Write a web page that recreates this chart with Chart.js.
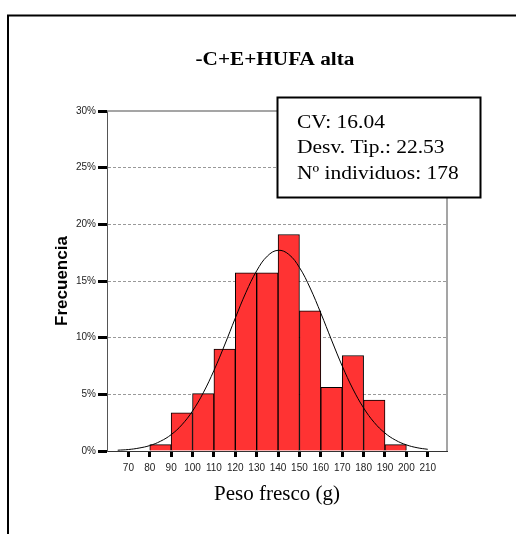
<!DOCTYPE html>
<html>
<head>
<meta charset="utf-8">
<script src="https://cdn.jsdelivr.net/npm/chart.js@4"></script>
<style>
  body { margin: 0; background: #fff; }
  canvas { display: block; }
</style>
</head>
<body>
<canvas id="chart" width="516" height="534"></canvas>
<script>
// Data (% of 178 individuals per 10 g bin)
var binCenters = [85, 95, 105, 115, 125, 135, 145, 155, 165, 175, 185, 195];
var binPercent = [0.56, 3.37, 5.06, 8.99, 15.73, 15.73, 19.10, 12.36, 5.62, 8.43, 4.49, 0.56];

// Normal curve as seen over the bars
var curveX = [65, 70, 75, 80, 85, 90, 95, 100, 105, 110, 115, 120, 125, 130, 135, 140,
              145, 150, 155, 160, 165, 170, 175, 180, 185, 190, 195, 200, 205, 210];
var curveY = [0.07, 0.13, 0.26, 0.48, 0.86, 1.44, 2.31, 3.53, 5.13, 7.10, 9.35, 11.73, 14.00, 15.90, 17.20, 17.71,
              17.35, 16.19, 14.38, 12.16, 9.79, 7.50, 5.47, 3.80, 2.51, 1.58, 0.95, 0.54, 0.29, 0.15];

var xTicks = [70, 80, 90, 100, 110, 120, 130, 140, 150, 160, 170, 180, 190, 200, 210];
var yTicks = [0, 5, 10, 15, 20, 25, 30];

var chartTitle = "-C+E+HUFA alta";
var statLines = ["CV: 16.04", "Desv. Tip.: 22.53", "N\u00BA individuos: 178"];

var barData = binCenters.map(function (x, i) { return { x: x, y: binPercent[i] }; });
var curveData = curveX.map(function (x, i) { return { x: x, y: curveY[i] }; });

var ctx = document.getElementById("chart");

var myChart = new Chart(ctx, {
  data: {
    datasets: [
      {
        type: "line",
        data: curveData,
        borderColor: "#000",
        borderWidth: 1,
        pointRadius: 0,
        tension: 0.4,
        fill: false,
        order: 0,
      },
      {
        type: "bar",
        data: barData,
        backgroundColor: "#ff3333",
        borderColor: "#000",
        borderWidth: 1,
        barPercentage: 1,
        categoryPercentage: 1,
        order: 1,
      },
    ],
  },
  options: {
    responsive: false,
    animation: false,
    events: [],
    layout: { padding: { top: 111, right: 69, left: 0, bottom: 0 } },
    plugins: {
      legend: { display: false },
      tooltip: { enabled: false },
    },
    scales: {
      x: {
        type: "linear",
        min: 60,
        max: 219,
        offset: false,
        afterBuildTicks: function (scale) {
          scale.ticks = xTicks.map(function (v) { return { value: v }; });
        },
        afterFit: function (scale) { scale.height = 83; },
        grid: {
          offset: false,
          drawOnChartArea: false,
          tickLength: 6,
          tickWidth: 3,
          tickColor: "#000",
        },
        border: { display: true, color: "#333", width: 1 },
        ticks: {
          autoSkip: false,
          maxRotation: 0,
          padding: 5,
          color: "#222",
          font: { family: "Liberation Sans", size: 10 },
        },
        title: {
          display: true,
          text: "Peso fresco (g)",
          color: "#000",
          font: { family: "Liberation Serif", size: 21, lineHeight: 1 },
          padding: { top: 0, bottom: 29 },
        },
      },
      y: {
        min: 0,
        max: 30,
        afterBuildTicks: function (scale) {
          scale.ticks = yTicks.map(function (v) { return { value: v }; });
        },
        afterFit: function (scale) { scale.width = 107; },
        grid: {
          color: function (c) {
            var v = c.tick ? c.tick.value : 0;
            return v === 0 || v === 30 ? "rgba(0,0,0,0)" : "#999";
          },
          lineWidth: 1,
          tickLength: 9,
          tickWidth: 3,
          tickColor: "#000",
          tickBorderDash: [],
        },
        border: { display: true, color: "#555", width: 1, dash: [3, 2] },
        ticks: {
          padding: 2,
          color: "#222",
          font: { family: "Liberation Sans", size: 10 },
          callback: function (value) {
            return value + "%";
          },
        },
        title: {
          display: true,
          text: "Frecuencia",
          color: "#000",
          font: { family: "Liberation Sans", size: 17, weight: "bold", lineHeight: 1 },
          padding: { top: 54, bottom: 0 },
        },
      },
    },
  },
  plugins: [
    {
      id: "pageFrame",
      beforeDraw: function (chart) {
        var c = chart.ctx;
        c.save();
        c.strokeStyle = "#000";
        c.lineWidth = 2;
        c.beginPath();
        c.moveTo(8, 534);
        c.lineTo(8, 15.5);
        c.lineTo(516, 15.5);
        c.stroke();
        c.restore();
      },
    },
    {
      id: "plotFrame",
      beforeDatasetsDraw: function (chart) {
        var a = chart.chartArea;
        var c = chart.ctx;
        c.save();
        c.strokeStyle = "#888";
        c.lineWidth = 1.5;
        c.beginPath();
        c.moveTo(a.left, a.top);
        c.lineTo(a.right, a.top);
        c.lineTo(a.right, a.bottom);
        c.stroke();
        c.restore();
      },
    },
    {
      id: "titleAndStats",
      afterDraw: function (chart) {
        var c = chart.ctx;
        // title, slightly wide like the original
        c.save();
        c.fillStyle = "#000";
        c.font = "bold 18px 'Liberation Serif'";
        c.textBaseline = "alphabetic";
        c.textAlign = "center";
        c.translate(275, 65);
        c.scale(1.18, 1);
        c.fillText(chartTitle, 0, 0);
        c.restore();

        // stats box
        c.save();
        c.fillStyle = "#fff";
        c.fillRect(277.5, 97.5, 203, 100);
        c.strokeStyle = "#000";
        c.lineWidth = 2;
        c.strokeRect(277.5, 97.5, 203, 100);
        c.fillStyle = "#000";
        c.font = "19px 'Liberation Serif'";
        c.textAlign = "left";
        c.textBaseline = "alphabetic";
        statLines.forEach(function (t, i) {
          c.save();
          c.translate(297, 127.5 + i * 25.5);
          c.scale(1.13, 1);
          c.fillText(t, 0, 0);
          c.restore();
        });
        c.restore();
      },
    },
  ],
});
</script>
</body>
</html>
